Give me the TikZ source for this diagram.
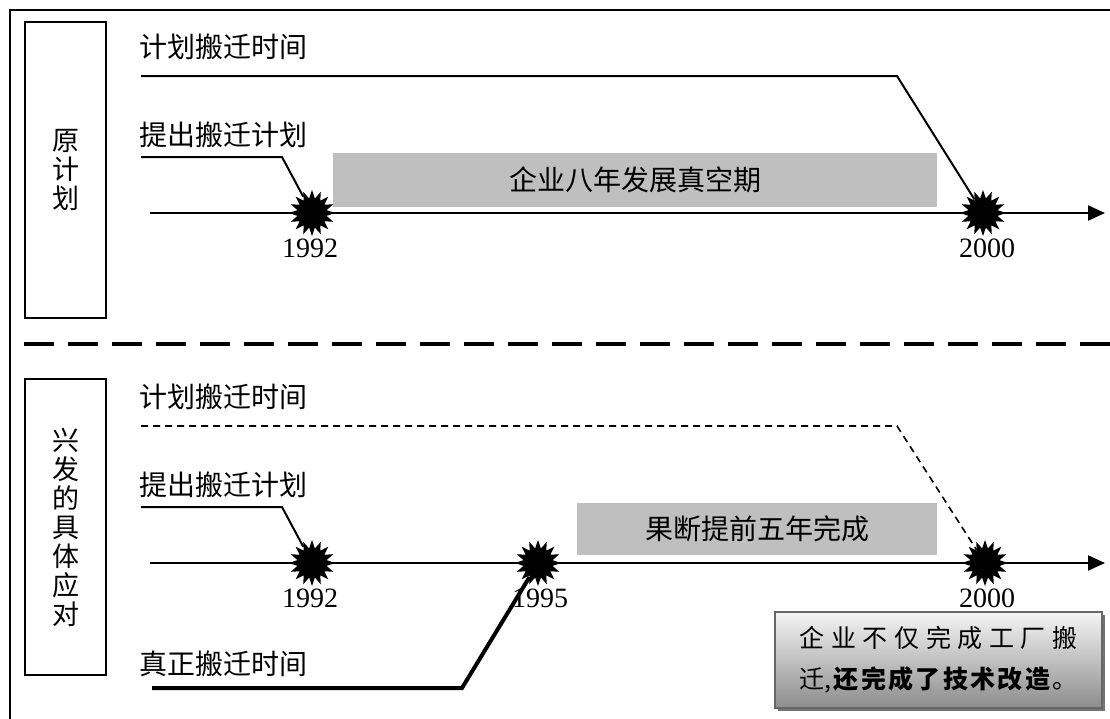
\documentclass[tikz,border=0pt]{standalone}
\usepackage{fontspec}
\setmainfont{Liberation Serif}
\newfontfamily\cjk{Noto Sans CJK SC}
\usetikzlibrary{shapes.geometric,arrows.meta,shadows}
\tikzset{
  lbl/.style={font=\cjk\fontsize{28}{30}\selectfont, anchor=west, inner sep=0pt},
  yr/.style={font=\fontsize{28}{30}\selectfont, inner sep=0pt},
  burst/.style={star, star points=16, star point ratio=1.55, fill=black, minimum size=46pt, inner sep=0pt},
  graybox/.style={fill=black!25, inner sep=0pt, font=\cjk\fontsize{28}{30}\selectfont},
  sidebox/.style={draw, line width=1.8pt, minimum width=81pt, minimum height=296pt, align=center, inner sep=0pt, font=\cjk\fontsize{27}{29}\selectfont},
  tl/.style={line width=2pt},
  tldash/.style={line width=1.6pt, dash pattern=on 7pt off 5pt},
  axisline/.style={line width=2.2pt, -{Triangle[length=17pt,width=15pt]}},
  sep/.style={line width=4pt, dash pattern=on 30pt off 14pt},
}
\begin{document}
\begin{tikzpicture}[x=1pt,y=-1pt]
\useasboundingbox (0,0) rectangle (1110,718);
% outer frame
\coordinate (fr0) at (10,725);
\coordinate (fr1) at (10,10);
\coordinate (fr2) at (1115,10);
\draw[line width=2pt] (fr0) -- (fr1) -- (fr2);
% separator
\coordinate (sp0) at (24,344);
\coordinate (sp1) at (1112,344);
\draw[sep] (sp0) -- (sp1);
% side boxes
\node[sidebox] (boxA) at (65.5,170) {原\\计\\划};
\node[sidebox] (boxB) at (65.5,527) {兴\\发\\的\\具\\体\\应\\对};

% ---------- upper section ----------
\node[lbl] (tA1) at (139,47) {计划搬迁时间};
\node[lbl] (tA2) at (139,135) {提出搬迁计划};
\coordinate (a1s) at (141,76);
\coordinate (a1b) at (897,76);
\coordinate (a2s) at (141,157);
\coordinate (a2b) at (282,157);
\node[graybox, minimum width=604pt, minimum height=54pt] (gA) at (635,180) {企业八年发展真空期};
\coordinate (axA0) at (150,213);
\coordinate (axA1) at (1105,213);
\draw[axisline] (axA0) -- (axA1);
\node[burst] (sA1) at (312,213) {};
\node[burst] (sA2) at (983,213) {};
\draw[tl] (a1s) -- (a1b) -- (sA2);
\draw[tl] (a2s) -- (a2b) -- (sA1);
\node[yr] (yA1) at (310,248) {1992};
\node[yr] (yA2) at (987,248) {2000};

% ---------- lower section ----------
\node[lbl] (tB1) at (139,397) {计划搬迁时间};
\node[lbl] (tB2) at (139,485) {提出搬迁计划};
\node[lbl] (tB3) at (139,664) {真正搬迁时间};
\coordinate (b1s) at (141,426);
\coordinate (b1b) at (897,426);
\coordinate (b2s) at (141,507);
\coordinate (b2b) at (282,507);
\coordinate (b3s) at (152,688);
\coordinate (b3b) at (462,688);
\node[graybox, minimum width=360pt, minimum height=52pt] (gB) at (757,529) {果断提前五年完成};
\coordinate (axB0) at (150,563);
\coordinate (axB1) at (1105,563);
\draw[axisline] (axB0) -- (axB1);
\node[burst] (sB1) at (312,563) {};
\node[burst] (sB2) at (538,563) {};
\node[burst] (sB3) at (985,563) {};
\draw[tldash] (b1s) -- (b1b) -- (sB3);
\draw[tl] (b2s) -- (b2b) -- (sB1);
\draw[line width=4pt] (b3s) -- (b3b) -- (sB2);
\node[yr] (yB1) at (310,598) {1992};
\node[yr] (yB2) at (540,598) {1995};
\node[yr] (yB3) at (987,598) {2000};

% note box
\node[draw=black!60, line width=2pt, minimum width=327pt, minimum height=96pt,
      top color=black!4, bottom color=black!45,
      drop shadow={shadow xshift=3pt, shadow yshift=-3pt, fill=black!55, opacity=1},
      align=left, inner sep=0pt, font=\cjk\fontsize{25}{41}\selectfont] (note) at (938.5,660)
  {\makebox[278pt][s]{企\hfill 业\hfill 不\hfill 仅\hfill 完\hfill 成\hfill 工\hfill 厂\hfill 搬}\\
   \makebox[278pt][s]{迁,\hfill\bfseries 还\hfill 完\hfill 成\hfill 了\hfill 技\hfill 术\hfill 改\hfill 造\hfill\mdseries 。}};
\end{tikzpicture}
\end{document}
